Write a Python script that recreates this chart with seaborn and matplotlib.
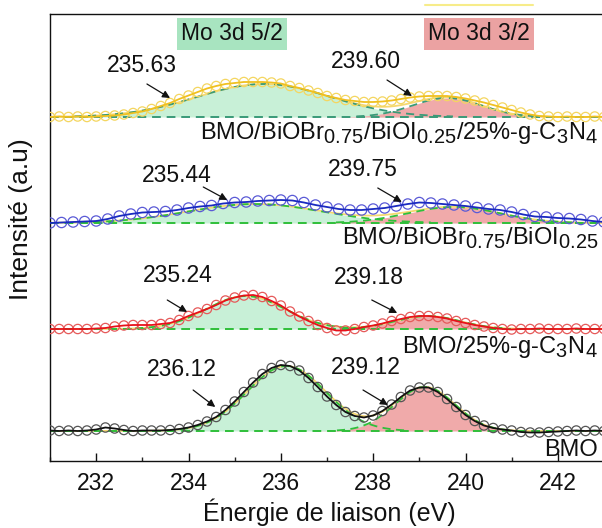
import numpy as np
import matplotlib
matplotlib.use("Agg")
import matplotlib.pyplot as plt
import matplotlib._mathtext as _mathtext
from matplotlib.lines import Line2D
from matplotlib.ticker import MultipleLocator
import seaborn as sns

# ---------------------------------------------------------------- data
# Binding-energy sampling of the Mo 3d region (eV)
energy = np.round(np.arange(231.0, 243.001, 0.2), 2)
energy_bb = np.round(np.arange(231.0, 243.001, 0.25), 2)

# Background-subtracted intensities (a.u.)
int_bmo_bb_cn = [0, 0.5, 0, 0.5, 0, 0.5, 1, 1.5, 2.5, 4, 5.5, 8, 11, 14, 18,
                 21.5, 25, 28.5, 31, 33, 34, 35, 35, 35, 34.5, 33.5, 31, 29,
                 26.5, 24, 21, 19, 17, 16, 15, 15, 15.5, 16.5, 18, 19.5, 20.5,
                 21, 21, 21, 20, 18.5, 16.5, 14.5, 12, 9.5, 7, 4.5, 2.5, 1,
                 0.5, 0, 0.5, 0, 0, 0.5, 0]
int_bmo_bb = [0, 0.5, 1, 1.5, 2, 4, 7, 9, 10.5, 11, 11.5, 13, 15, 16.5, 17.5,
              19.5, 20.5, 21, 22, 22.5, 23, 22.5, 20.5, 18, 16, 14, 13, 13,
              14, 15, 17, 19, 20.5, 20, 19, 18, 17, 15.5, 14, 13, 11, 8.5,
              6.5, 6, 5, 4.5, 3.5, 2, 1]
int_bmo_cn = [0, 0, 0, 0, 0, 0.5, 1, 2.5, 3.5, 4, 4, 4, 5, 6, 9, 13, 16.5,
              20, 24, 28.5, 31.5, 33.5, 34, 32, 28, 23.5, 17.5, 12.5, 8, 4,
              1, -1.5, -1.5, 0, 2, 3.5, 5.5, 8, 10, 12, 13, 13, 12, 10.5, 8,
              6, 4, 2.5, 1, 0, -0.5, 0, 0, 0.5, 0, 0, 0, 0.5, 0, 0, 0]
int_bmo = [0.5, 0, 0.5, 0, 0.5, 1.5, 3.5, 2.5, 1, 0, 0.5, 0.5, 0.5, 1, 2,
           3.5, 6, 9.5, 14, 21, 29.5, 39, 48.5, 57, 63, 66, 65, 60.5, 53, 44,
           34.5, 26, 19, 15, 13.5, 15.5, 20, 26.5, 34, 40.5, 43.5, 43.5, 39,
           32, 24, 16, 10, 5.5, 3, 1.5, 0.5, -1, -1.5, -1.5, -1, -0.5, 0, 0.5,
           0, 0.5, 0]

# Vertical stacking offsets of the four spectra
offsets = [344, 238, 132, 30]

# Fitted components: Mo 3d5/2 and Mo 3d3/2 (center eV, height, Gaussian width)
p52_center = [235.63, 235.44, 235.24, 236.12]
p52_height = [33, 19, 33, 65]
p52_sigma = [1.45, 1.45, 0.85, 0.85]
p32_center = [239.60, 239.75, 239.18, 239.12]
p32_height = [19, 16, 13, 44]
p32_sigma = [0.75, 1.0, 0.7, 0.65]

sample_names = [
    "BMO/BiOBr$_{\\mathregular{0.75}}$/BiOI$_{\\mathregular{0.25}}$/25%-g-C$_{\\mathregular{3}}$N$_{\\mathregular{4}}$",
    "BMO/BiOBr$_{\\mathregular{0.75}}$/BiOI$_{\\mathregular{0.25}}$",
    "BMO/25%-g-C$_{\\mathregular{3}}$N$_{\\mathregular{4}}$",
    "BMO",
]

x_ticks = [232, 234, 236, 238, 240, 242]

# ---------------------------------------------------------------- style
sns.set_theme(style="white")
plt.rcParams["font.family"] = ["Liberation Sans", "DejaVu Sans"]
plt.rcParams["mathtext.fontset"] = "custom"
plt.rcParams["mathtext.rm"] = "Liberation Sans"
_mathtext.SHRINK_FACTOR = 0.85

line_colors = ["#f0c020", "#1a2ac0", "#e8101a", "#111111"]
marker_colors = ["#f4d660", "#5a5ad6", "#e65a5a", "#555555"]
marker_sizes = [45, 55, 45, 45]
outline_colors = ["#3a9a78", "#2fbf3a", "#2fbf3a", "#2fbf3a"]
green_fill = "#c8f0d7"
pink_fill = "#f0aaaa"
envelope_color = "#f5d870"

fig = plt.figure(figsize=(6.02, 5.28), dpi=100)
ax = fig.add_axes([50 / 602, 67 / 528, 554 / 602, 447 / 528])

grid = np.linspace(231.0, 243.0, 1200)


def gauss(x, c, h, s):
    return h * np.exp(-((x - c) ** 2) / (2 * s ** 2))


spectra = [
    (energy, int_bmo_bb_cn),
    (energy_bb, int_bmo_bb),
    (energy, int_bmo_cn),
    (energy, int_bmo),
]

for i, (xe, yi) in enumerate(spectra):
    base = offsets[i]
    g1 = gauss(grid, p52_center[i], p52_height[i], p52_sigma[i])
    g2 = gauss(grid, p32_center[i], p32_height[i], p32_sigma[i])

    ax.fill_between(grid, base, base + g1, color=green_fill, lw=0, zorder=1)
    ax.fill_between(grid, base, base + g2, color=pink_fill, lw=0, zorder=1.1)

    # fitted envelope
    ax.plot(grid, base + g1 + g2, color=envelope_color, lw=1.3, zorder=1.5)

    # component outlines and background
    for g in (g1, g2):
        ax.plot(grid, np.where(g > 0.6, base + g, np.nan),
                color=outline_colors[i], lw=1.3, ls=(0, (4.5, 3)), zorder=2)
    ax.plot([231, 243], [base, base], color=outline_colors[i], lw=1.4,
            ls=(0, (4.5, 3)), zorder=2)

    y = np.asarray(yi, dtype=float) + base
    sns.scatterplot(x=xe, y=y, ax=ax, s=marker_sizes[i], marker="o",
                    facecolors="none", edgecolor=marker_colors[i],
                    linewidth=0.9, zorder=3, legend=False)
    sns.lineplot(x=xe, y=y, ax=ax, color=line_colors[i], lw=1.3, zorder=4,
                 legend=False)

# ---------------------------------------------------------------- annotations
label_pos = [
    [(233.00, 395), (237.84, 399)],
    [(233.75, 286), (237.78, 291)],
    [(233.77, 185), (237.91, 184)],
    [(233.86, 92), (237.84, 93)],
]
arrow_pos = [
    [((233.10, 377), (233.60, 363)), ((238.30, 381), (238.84, 365))],
    [((234.32, 274), (234.84, 261)), ((238.10, 273), (238.62, 259))],
    [((233.54, 161), (233.97, 149)), ((237.97, 161), (238.52, 148))],
    [((234.10, 71), (234.58, 54)), ((237.78, 71), (238.32, 56))],
]
name_y = [321.5, 216, 108, 5]

for i in range(4):
    for j, c in enumerate((p52_center[i], p32_center[i])):
        tx, ty = label_pos[i][j]
        ax.text(tx, ty, f"{c:.2f}", ha="center", va="center",
                fontsize=16.5, color="#111111", zorder=6)
        (x0, y0), (x1, y1) = arrow_pos[i][j]
        ax.annotate("", xy=(x1, y1), xytext=(x0, y0),
                    arrowprops=dict(arrowstyle="-|>", color="#111111", lw=0.9,
                                    mutation_scale=11, shrinkA=0, shrinkB=0),
                    zorder=6)
    ax.text(242.87, name_y[i], sample_names[i], ha="right", va="baseline",
            fontsize=17, color="#111111", zorder=6)

ax.text(234.94, 427, "Mo 3d 5/2", ha="center", va="center", fontsize=16.5,
        color="#111111", zorder=6,
        bbox=dict(boxstyle="square,pad=0.18", fc="#a8e4c0", ec="none"))
ax.text(240.29, 427, "Mo 3d 3/2", ha="center", va="center", fontsize=16.5,
        color="#111111", zorder=6,
        bbox=dict(boxstyle="square,pad=0.18", fc="#eba2a2", ec="none"))

fig.add_artist(Line2D([425 / 602, 533 / 602], [1 - 5 / 528, 1 - 5 / 528],
                      color="#f7ec8a", lw=1.5))

# ---------------------------------------------------------------- axes
ax.set_xlim(231, 243)
ax.set_ylim(0, 447)
ax.set_xticks(x_ticks)
ax.set_xticklabels([str(t) for t in x_ticks])
ax.xaxis.set_minor_locator(MultipleLocator(1))
ax.set_yticks([])
ax.tick_params(axis="x", which="major", direction="in", length=6, width=1,
               labelsize=16.5, pad=8, colors="#111111", bottom=True)
ax.tick_params(axis="x", which="minor", direction="in", length=3, width=1,
               bottom=True)
for sp in ax.spines.values():
    sp.set_color("#111111")
    sp.set_linewidth(1.0)

ax.set_xlabel("Énergie de liaison (eV)", fontsize=18, color="#111111")
ax.set_ylabel("Intensité (a.u)", fontsize=19, color="#111111")
ax.xaxis.set_label_coords(0.505, -0.085)
ax.yaxis.set_label_coords(-0.03, 0.54)

fig.savefig("out.png", dpi=100, facecolor="white")
